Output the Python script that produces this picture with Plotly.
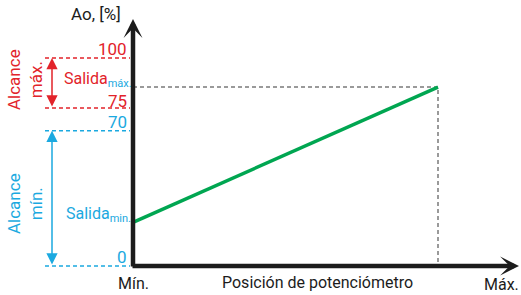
import plotly.graph_objects as go

# ---- data (schematic) ----
level_labels = ["0", "70", "75", "100"]          # output levels, %
level_pos = [0, 65, 76, 100]                      # where each level sits on the drawing axis
level_kind = ["min", "min", "max", "max"]
pot_pos = [0, 1]                                  # potentiometer: Mín., Máx.
salida = [21, 86]                                 # output at Mín. / Máx. (drawing axis)

RED = "#e2232a"
BLUE = "#1ba9e0"
GREEN = "#00a651"
BLACK = "#1c1c1c"
GRAY = "#7a7a7a"
FONT = "Roboto"
FS = 16

W, H = 521, 295
X0PX, X1PX = 133, 438
Y0PX, YSCALE = 266, 2.08


def px2x(px):
    return (px - X0PX) / (X1PX - X0PX)


def px2y(py):
    return (Y0PX - py) / YSCALE


fig = go.Figure()

# guide dashed lines from Salida max
fig.add_trace(go.Scatter(x=[pot_pos[0], pot_pos[1], pot_pos[1]], y=[salida[1], salida[1], level_pos[0]],
                         mode="lines", line=dict(color=GRAY, width=1.5, dash="4px,3px"),
                         hoverinfo="skip", showlegend=False))

# left level dashed lines
for lab, pos, kind in zip(level_labels, level_pos, level_kind):
    col = RED if kind == "max" else BLUE
    fig.add_trace(go.Scatter(x=[px2x(45), px2x(130)], y=[pos, pos], mode="lines",
                             line=dict(color=col, width=1.5, dash="4px,3px"),
                             hoverinfo="skip", showlegend=False))
    fig.add_annotation(x=px2x(128), y=pos, text=lab, showarrow=False, xanchor="right",
                       yanchor="bottom", yshift=-4 if lab == "75" else -2, borderpad=0,
                       font=dict(family=FONT, size=FS + 1, color=col))

# output line
fig.add_trace(go.Scatter(x=pot_pos, y=salida, mode="lines", line=dict(color=GREEN, width=3.5),
                         hoverinfo="skip", showlegend=False))

# axes with arrows
fig.add_annotation(x=0, y=px2y(19), ax=0, ay=px2y(268), xref="x", yref="y", axref="x", ayref="y",
                   text="", showarrow=True, arrowhead=3, arrowsize=0.7, arrowwidth=4.5,
                   arrowcolor=BLACK, standoff=0)
fig.add_annotation(x=px2x(519), y=0, ax=px2x(131), ay=0, xref="x", yref="y", axref="x", ayref="y",
                   text="", showarrow=True, arrowhead=3, arrowsize=0.7, arrowwidth=4.5,
                   arrowcolor=BLACK, standoff=0)

# range double arrows
for (a, b, col) in [(level_pos[3], level_pos[2], RED), (level_pos[1], level_pos[0], BLUE)]:
    fig.add_annotation(x=px2x(52), y=a, ax=px2x(52), ay=b, xref="x", yref="y", axref="x", ayref="y",
                       text="", showarrow=True, arrowside="end+start", arrowhead=2, startarrowhead=2,
                       arrowsize=1.5, startarrowsize=1.5, arrowwidth=1.5, arrowcolor=col,
                       standoff=0, startstandoff=0)

# range titles
fig.add_annotation(x=px2x(25), y=px2y(80), text="Alcance<br>máx.", textangle=-90, showarrow=False,
                   font=dict(family=FONT, size=FS + 1, color=RED), align="center")
fig.add_annotation(x=px2x(25), y=px2y(204), text="Alcance<br>mín.", textangle=-90, showarrow=False,
                   font=dict(family=FONT, size=FS + 1, color=BLUE), align="center")

# Salida labels
fig.add_annotation(x=px2x(63), y=px2y(79),
                   text=f"Salida<sub><span style='color:{BLUE};font-size:11px'>máx.</span></sub>",
                   showarrow=False, xanchor="left", yanchor="middle", borderpad=0,
                   font=dict(family=FONT, size=FS, color=RED))
fig.add_annotation(x=px2x(64), y=px2y(214), text="Salida<sub><span style='font-size:11px'>min.</span></sub>",
                   showarrow=False, xanchor="left", yanchor="middle",
                   font=dict(family=FONT, size=FS, color=BLUE))

# axis titles and end labels
fig.add_annotation(x=px2x(96), y=px2y(14), text="Ao, [%]", showarrow=False,
                   font=dict(family=FONT, size=FS + 1, color=BLACK))
fig.add_annotation(x=pot_pos[0], y=px2y(283), text="Mín.", showarrow=False,
                   font=dict(family=FONT, size=FS, color=BLACK))
fig.add_annotation(x=px2x(317), y=px2y(282), text="Posición de potenciómetro", showarrow=False,
                   font=dict(family=FONT, size=FS, color=BLACK))
fig.add_annotation(x=px2x(501), y=px2y(284), text="Máx.", showarrow=False,
                   font=dict(family=FONT, size=FS, color=BLACK))

fig.update_xaxes(visible=False, range=[px2x(0), px2x(W)], fixedrange=True)
fig.update_yaxes(visible=False, range=[px2y(H), px2y(0)], fixedrange=True)
fig.update_layout(width=W, height=H, margin=dict(l=0, r=0, t=0, b=0),
                  paper_bgcolor="white", plot_bgcolor="white", showlegend=False)

fig.write_html("out.html", config={"displayModeBar": False},
               post_script="document.body.style.margin='0';document.body.style.overflow='hidden';")
